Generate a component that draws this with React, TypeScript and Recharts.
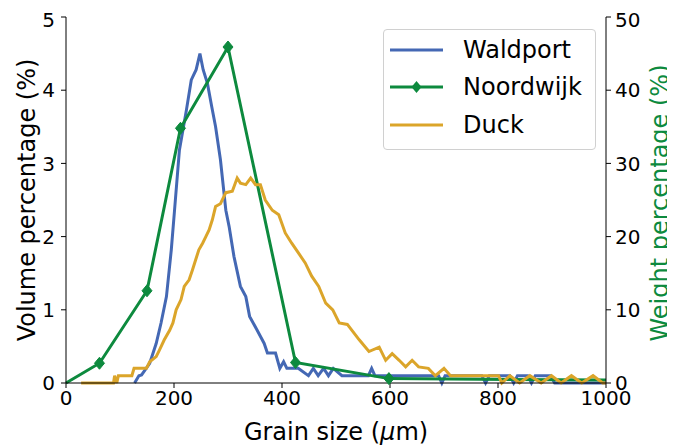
import { LineChart, Line, XAxis, YAxis, Legend } from 'recharts'

const waldportSize = [127, 135, 140, 155, 167, 176, 186, 195, 201, 210, 223, 232, 241, 248, 254, 262, 270, 277, 286, 296, 302, 311, 323, 333, 340, 354, 367, 373, 388, 396, 403, 409, 430, 449, 458, 467, 477, 486, 495, 511, 560, 566, 572, 690, 696, 702, 770, 777, 784, 822, 829, 836, 855, 862, 869, 897, 905, 1000]
const waldportVolume = [0, 0.1, 0.11, 0.27, 0.54, 0.82, 1.18, 1.82, 2.36, 3.18, 3.73, 4.14, 4.28, 4.5, 4.28, 4.09, 3.77, 3.5, 3.05, 2.36, 2.14, 1.73, 1.32, 1.18, 0.91, 0.72, 0.54, 0.41, 0.41, 0.2, 0.29, 0.2, 0.2, 0.1, 0.2, 0.1, 0.2, 0.1, 0.2, 0.1, 0.1, 0.2, 0.1, 0.1, 0, 0.1, 0.1, 0, 0.1, 0.1, 0, 0.1, 0.1, 0, 0.1, 0.1, 0, 0]

const duckSize = [28, 88, 90, 94, 97, 122, 126, 149, 155, 167, 173, 182, 192, 198, 204, 213, 219, 228, 234, 240, 246, 253, 259, 265, 271, 277, 286, 296, 308, 317, 323, 333, 342, 351, 360, 369, 382, 394, 406, 418, 431, 443, 455, 468, 481, 494, 506, 521, 543, 561, 580, 592, 604, 617, 629, 641, 653, 671, 684, 700, 712, 801, 807, 822, 840, 859, 880, 899, 917, 936, 955, 976, 994, 1000]
const duckVolume = [0, 0, 0.1, 0, 0.1, 0.1, 0.2, 0.2, 0.29, 0.36, 0.45, 0.59, 0.72, 0.82, 1.0, 1.14, 1.32, 1.41, 1.54, 1.68, 1.82, 1.91, 2.0, 2.09, 2.23, 2.41, 2.45, 2.6, 2.62, 2.8, 2.73, 2.71, 2.8, 2.71, 2.71, 2.5, 2.36, 2.3, 2.05, 1.91, 1.77, 1.64, 1.46, 1.32, 1.09, 1.0, 0.82, 0.8, 0.59, 0.43, 0.49, 0.31, 0.4, 0.31, 0.22, 0.31, 0.22, 0.2, 0.1, 0.2, 0.1, 0.1, 0, 0.1, 0, 0.1, 0, 0.1, 0, 0.1, 0, 0.1, 0, 0]

const noordwijkSize = [0, 62, 150, 212, 300, 425, 598, 1000]
const noordwijkWeight = [0, 2.7, 12.6, 34.8, 45.9, 2.8, 0.6, 0.4]

const xTicks = [0, 200, 400, 600, 800, 1000]
const leftTicks = [0, 1, 2, 3, 4, 5]
const rightTicks = [0, 10, 20, 30, 40, 50]

const BLUE = '#4468b4'
const GREEN = '#0d8a3e'
const GOLD = '#dba52a'
const FONT = '"DejaVu Sans", sans-serif'

const waldport = waldportSize.map((x, i) => ({ x, y: waldportVolume[i] }))
const duck = duckSize.map((x, i) => ({ x, y: duckVolume[i] }))
const noordwijk = noordwijkSize.map((x, i) => ({ x, y: noordwijkWeight[i] }))

// markers only on the measured sieve points, not the end anchors
const Diamond = (props: any) => {
  const { cx, cy, index } = props
  if (cx == null || cy == null) return null
  if (index === 0 || index === noordwijk.length - 1) return null
  return <polygon points={`${cx},${cy - 6} ${cx + 5},${cy} ${cx},${cy + 6} ${cx - 5},${cy}`} fill={GREEN} stroke={GREEN} strokeWidth={1} />
}

const XLabel = (props: any) => {
  const { x, y, width } = props.viewBox
  return (
    <text x={x + width / 2} y={y + 57} textAnchor="middle" fontSize={24} fontFamily={FONT} fill="#000">
      Grain size (<tspan fontStyle="italic">μ</tspan>m)
    </text>
  )
}

// baseline placed explicitly (rotated text: glyph tops point left, descenders right)
const LeftLabel = () => (
  <text x={27} y={192} transform="rotate(-90 27 192)" textAnchor="middle" fontSize={24} fontFamily={FONT} fill="#000">
    Volume percentage (%)
  </text>
)

const RightLabel = () => (
  <text x={660} y={195} transform="rotate(-90 660 195)" textAnchor="middle" fontSize={24} fontFamily={FONT} fill={GREEN}>
    Weight percentage (%)
  </text>
)

const legendItems = [
  { name: 'Waldport', color: BLUE, marker: false },
  { name: 'Noordwijk', color: GREEN, marker: true },
  { name: 'Duck', color: GOLD, marker: false },
]

const renderLegend = () => (
  <div style={{ width: 211, height: 119, border: '1px solid #d0d0d0', borderRadius: 4, background: 'rgba(255,255,255,0.85)', fontFamily: FONT, fontSize: 24, boxSizing: 'content-box' }}>
    {legendItems.map((it, i) => (
      <div key={it.name} style={{ position: 'absolute', left: 0, top: 2 + i * 37.5, height: 37.5, display: 'flex', alignItems: 'center' }}>
        <svg width={80} height={20} style={{ display: 'block' }}>
          <line x1={7} y1={10} x2={60} y2={10} stroke={it.color} strokeWidth={3} />
          {it.marker && <polygon points="33.5,4 38.5,10 33.5,16 28.5,10" fill={it.color} />}
        </svg>
        <span style={{ color: '#000' }}>{it.name}</span>
      </div>
    ))}
  </div>
)

export default function App() {
  const tickStyle = { fontSize: 20, fontFamily: FONT, fill: '#000' }
  return (
    <LineChart width={667} height={440} margin={{ top: 9, right: 0, bottom: 0, left: 0 }} style={{ overflow: 'visible' }}>
      <XAxis
        xAxisId="bottom"
        dataKey="x"
        type="number"
        domain={[0, 1000]}
        ticks={xTicks}
        tick={tickStyle}
        tickSize={5}
        tickMargin={3}
        height={65}
        stroke="#000"
        allowDuplicatedCategory={false}
        label={<XLabel />}
      />
      <XAxis xAxisId="top" orientation="top" dataKey="x" type="number" domain={[0, 1000]} tick={false} tickLine={false} height={0} stroke="#000" />
      <YAxis
        yAxisId="left"
        type="number"
        domain={[0, 5]}
        ticks={leftTicks}
        tick={tickStyle}
        tickSize={5}
        tickMargin={6}
        width={58}
        stroke="#000"
        label={<LeftLabel />}
      />
      <YAxis
        yAxisId="right"
        orientation="right"
        type="number"
        domain={[0, 50]}
        ticks={rightTicks}
        tick={tickStyle}
        tickSize={5}
        tickMargin={4}
        width={69}
        stroke="#000"
        label={<RightLabel />}
      />
      <Line xAxisId="bottom" yAxisId="left" data={waldport} dataKey="y" name="Waldport" stroke={BLUE} strokeWidth={3} dot={false} isAnimationActive={false} />
      <Line xAxisId="bottom" yAxisId="right" data={noordwijk} dataKey="y" name="Noordwijk" stroke={GREEN} strokeWidth={3} dot={<Diamond />} activeDot={false} isAnimationActive={false} />
      <Line xAxisId="bottom" yAxisId="left" data={duck} dataKey="y" name="Duck" stroke={GOLD} strokeWidth={3} dot={false} isAnimationActive={false} />
      <Legend
        layout="horizontal"
        verticalAlign="middle"
        align="center"
        content={renderLegend}
        wrapperStyle={{ position: 'absolute', left: 375, top: 21, width: 213, height: 121 }}
      />
    </LineChart>
  )
}
